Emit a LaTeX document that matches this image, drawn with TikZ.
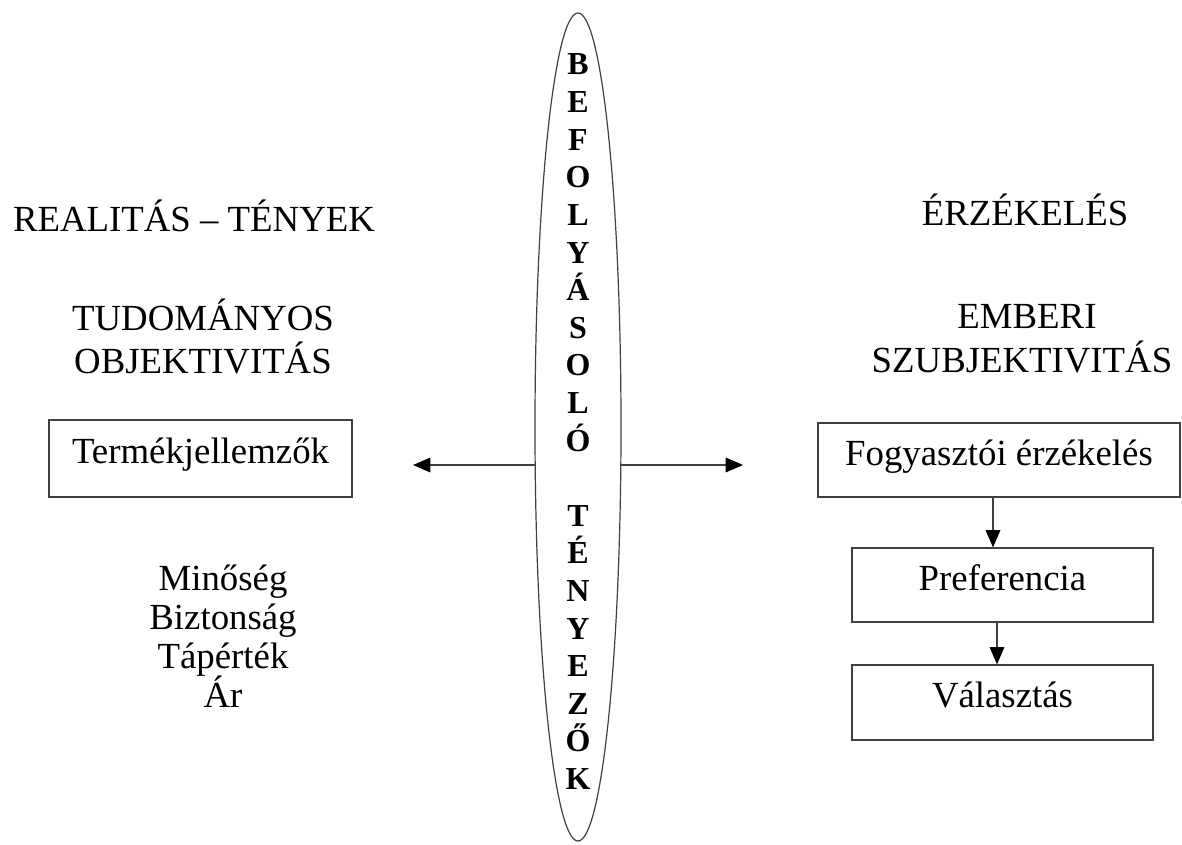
\documentclass[tikz,border=0pt]{standalone}
\usepackage{fontspec}
\setmainfont{Liberation Serif}
\usetikzlibrary{shapes.geometric,arrows.meta}
\tikzset{
  txt/.style={anchor=base, inner sep=0, font=\fontsize{27.6}{33}\selectfont},
  let/.style={anchor=base, inner sep=0, font=\fontsize{24}{28}\selectfont\bfseries},
  line/.style={draw=black!75, line width=0.9pt},
  boxnode/.style={line, rectangle, inner sep=0, text height=16.5pt, text depth=8.5pt,
    font=\fontsize{27.6}{33}\selectfont},
  arr/.style={line, -{Triangle[length=13pt, width=11pt, color=black]}},
}
\begin{document}
\begin{tikzpicture}[x=0.75pt, y=-0.75pt]
\useasboundingbox (0,0) rectangle (1182,845);
% central ellipse
\node[line, ellipse, inner sep=0, minimum width=64.5pt, minimum height=621pt] (ell) at (578,427) {};
\foreach \c [count=\i from 0] in {B,E,F,O,L,Y,Á,S,O,L,Ó,{},T,É,N,Y,E,Z,Ő,K}{
  \node[let] (l\i) at (578, 75+\i*37.6) {\c};
}
% left side
\node[txt] (real) at (194,232) {REALITÁS – TÉNYEK};
\node[txt] (tud) at (203,330) {TUDOMÁNYOS};
\node[txt] (obj) at (203,373) {OBJEKTIVITÁS};
\node[boxnode, minimum width=227.25pt, minimum height=57.75pt] (term) at (200.5,458.5) {Termékjellemzők};
\node[txt] (min) at (223,590) {Minőség};
\node[txt] (biz) at (223,629) {Biztonság};
\node[txt] (tap) at (223,668) {Tápérték};
\node[txt] (ar) at (223,707) {Ár};
% right side
\node[txt] (erz) at (1025,225) {ÉRZÉKELÉS};
\node[txt] (emb) at (1027,328) {EMBERI};
\node[txt] (szub) at (1022,372) {SZUBJEKTIVITÁS};
\node[boxnode, minimum width=271.5pt, minimum height=55.5pt] (fogy) at (999,460) {Fogyasztói érzékelés};
\node[boxnode, minimum width=225.75pt, minimum height=55.5pt] (pref) at (1002.5,585) {Preferencia};
\node[boxnode, minimum width=225.75pt, minimum height=56.25pt] (val) at (1002.5,702.5) {Választás};
% horizontal arrows
\coordinate (eL) at (535.3,465);
\coordinate (eR) at (620.7,465);
\coordinate (tL) at (413,465);
\coordinate (tR) at (743,465);
\draw[arr] (eL) -- (tL);
\draw[arr] (eR) -- (tR);
% vertical arrows
\coordinate (c1) at (993,0);
\coordinate (c2) at (997,0);
\draw[arr] (fogy.south -| c1) -- (pref.north -| c1);
\draw[arr] (pref.south -| c2) -- (val.north -| c2);
\end{tikzpicture}
\end{document}
